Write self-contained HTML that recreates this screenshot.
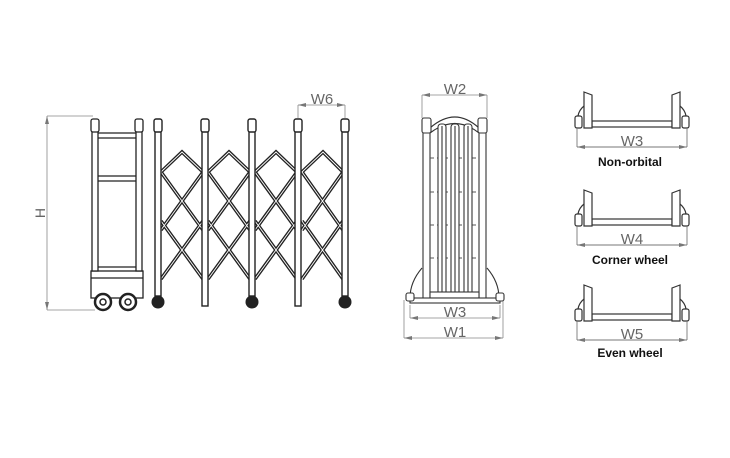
<!DOCTYPE html>
<html><head><meta charset="utf-8"><style>
html,body{margin:0;padding:0;background:#fff;width:730px;height:458px;overflow:hidden}
svg{display:block}
text{font-family:"Liberation Sans",sans-serif}
</style></head><body>
<svg width="730" height="458" viewBox="0 0 730 458" xmlns="http://www.w3.org/2000/svg">
<g stroke="#888" stroke-width="0.8" fill="none">
<line x1="47" y1="116" x2="47" y2="310"/>
<line x1="47" y1="116" x2="93" y2="116"/>
<line x1="47" y1="310" x2="95" y2="310"/>
<line x1="298" y1="105" x2="345" y2="105"/>
<line x1="298" y1="105" x2="298" y2="118"/>
<line x1="345" y1="105" x2="345" y2="118"/>
<line x1="422" y1="95" x2="487" y2="95"/>
<line x1="422" y1="95" x2="422" y2="118"/>
<line x1="487" y1="95" x2="487" y2="118"/>
<line x1="410" y1="318" x2="500" y2="318"/>
<line x1="404" y1="338" x2="503" y2="338"/>
<line x1="410" y1="305" x2="410" y2="318"/>
<line x1="500" y1="305" x2="500" y2="318"/>
<line x1="404" y1="300" x2="404" y2="338"/>
<line x1="503" y1="300" x2="503" y2="338"/>
</g>
<g fill="#777">
<path d="M47,116 l-2,8 l4,0z"/><path d="M47,310 l-2,-8 l4,0z"/>
<path d="M298,105 l8,-2 l0,4z"/><path d="M345,105 l-8,-2 l0,4z"/>
<path d="M422,95 l8,-2 l0,4z"/><path d="M487,95 l-8,-2 l0,4z"/>
<path d="M410,318 l8,-2 l0,4z"/><path d="M500,318 l-8,-2 l0,4z"/>
<path d="M404,338 l8,-2 l0,4z"/><path d="M503,338 l-8,-2 l0,4z"/>
</g>
<g fill="#666" font-size="15">
<text x="45" y="213" transform="rotate(-90 45 213)" text-anchor="middle" font-size="14">H</text>
<text x="322" y="104" text-anchor="middle">W6</text>
<text x="455" y="94" text-anchor="middle">W2</text>
<text x="455" y="317" text-anchor="middle">W3</text>
<text x="455" y="337" text-anchor="middle">W1</text>
</g>
<g stroke="#222" stroke-width="1.3" fill="#fff">
<rect x="91" y="271" width="52" height="27"/>
<line x1="91" y1="278" x2="143" y2="278"/>
<rect x="92" y="130" width="6" height="141"/>
<rect x="136" y="130" width="6" height="141"/>
<rect x="91" y="119" width="8" height="13" rx="2"/>
<rect x="135" y="119" width="8" height="13" rx="2"/>
<line x1="98" y1="133" x2="136" y2="133"/><line x1="98" y1="138" x2="136" y2="138"/>
<line x1="98" y1="176" x2="136" y2="176"/><line x1="98" y1="181" x2="136" y2="181"/>
<line x1="98" y1="267" x2="136" y2="267"/>
<circle cx="103" cy="302" r="8" stroke-width="2.5"/><circle cx="103" cy="302" r="3" stroke-width="1.5"/>
<circle cx="128" cy="302" r="8" stroke-width="2.5"/><circle cx="128" cy="302" r="3" stroke-width="1.5"/>
</g>
<g stroke="#222" stroke-width="3.6" fill="none">
<path d="M161,172 L182,152 L203,172 M161,172 L203,230 M203,172 L161,230 M161,221 L203,279 M203,221 L161,279"/>
<path d="M208,172 L229,152 L250,172 M208,172 L250,230 M250,172 L208,230 M208,221 L250,279 M250,221 L208,279"/>
<path d="M255,172 L276,152 L297,172 M255,172 L297,230 M297,172 L255,230 M255,221 L297,279 M297,221 L255,279"/>
<path d="M302,172 L323,152 L343,172 M302,172 L343,230 M343,172 L302,230 M302,221 L343,279 M343,221 L302,279"/>
</g>
<g stroke="#fff" stroke-width="0.9" fill="none">
<path d="M161,172 L182,152 L203,172 M161,172 L203,230 M203,172 L161,230 M161,221 L203,279 M203,221 L161,279"/>
<path d="M208,172 L229,152 L250,172 M208,172 L250,230 M250,172 L208,230 M208,221 L250,279 M250,221 L208,279"/>
<path d="M255,172 L276,152 L297,172 M255,172 L297,230 M297,172 L255,230 M255,221 L297,279 M297,221 L255,279"/>
<path d="M302,172 L323,152 L343,172 M302,172 L343,230 M343,172 L302,230 M302,221 L343,279 M343,221 L302,279"/>
</g>
<g stroke="#222" stroke-width="1.4" fill="#fff">
<rect x="155" y="130" width="6" height="166"/><rect x="154" y="119" width="8" height="13" rx="2"/>
<rect x="202" y="130" width="6" height="176"/><rect x="201" y="119" width="8" height="13" rx="2"/>
<rect x="249" y="130" width="6" height="166"/><rect x="248" y="119" width="8" height="13" rx="2"/>
<rect x="295" y="130" width="6" height="176"/><rect x="294" y="119" width="8" height="13" rx="2"/>
<rect x="342" y="130" width="6" height="166"/><rect x="341" y="119" width="8" height="13" rx="2"/>
</g>
<g fill="#222"><circle cx="158" cy="302" r="6.5"/><circle cx="252" cy="302" r="6.5"/><circle cx="345" cy="302" r="6.5"/></g>
<g stroke="#333" stroke-width="1.1" fill="#fff">
<path d="M422,268 Q410,282 410,298 M487,268 Q499,282 499,298"/>
<rect x="423" y="130" width="7" height="170"/>
<rect x="479" y="130" width="7" height="170"/>
<path d="M430,128 Q455,106 479,128 M430,133 Q455,114 479,133"/>
<rect x="422" y="118" width="9" height="15" rx="2"/>
<rect x="478" y="118" width="9" height="15" rx="2"/>
<g stroke="#555" stroke-dasharray="4 3"><line x1="430" y1="158" x2="479" y2="158"/><line x1="430" y1="192" x2="479" y2="192"/><line x1="430" y1="225" x2="479" y2="225"/><line x1="430" y1="258" x2="479" y2="258"/></g>
<rect x="438" y="124" width="8" height="172" rx="3"/><line x1="442" y1="126" x2="442" y2="295"/>
<rect x="451" y="124" width="8" height="172" rx="3"/><line x1="455" y1="126" x2="455" y2="295"/>
<rect x="464" y="124" width="8" height="172" rx="3"/><line x1="468" y1="126" x2="468" y2="295"/>
<rect x="430" y="292" width="49" height="6"/>
<rect x="410" y="298" width="90" height="5"/>
<rect x="406" y="293" width="8" height="8" rx="2"/><rect x="496" y="293" width="8" height="8" rx="2"/>
</g>
<g id="p" stroke="#333" stroke-width="1.2" fill="#fff">
<rect x="592" y="121" width="80" height="6"/>
<path d="M584,92 L592,95 L592,128 L584,128 Z"/>
<path d="M680,92 L672,95 L672,128 L680,128 Z"/>
<path d="M584,106 Q579,110 578,116 M680,106 Q685,110 686,116"/>
<rect x="575" y="116" width="7" height="12" rx="2"/>
<rect x="682" y="116" width="7" height="12" rx="2"/>
<line x1="577" y1="128" x2="577" y2="147" stroke="#777" stroke-width="0.9"/>
<line x1="687" y1="128" x2="687" y2="147" stroke="#777" stroke-width="0.9"/>
<line x1="577" y1="147" x2="687" y2="147" stroke="#777" stroke-width="0.9"/>
<path d="M577,147 l8,-2 l0,4z M687,147 l-8,-2 l0,4z" fill="#777" stroke="none"/>
</g>
<use href="#p" y="98"/>
<use href="#p" y="193"/>
<g fill="#666" font-size="15" text-anchor="middle">
<text x="632" y="146">W3</text><text x="632" y="244">W4</text><text x="632" y="339">W5</text>
</g>
<g fill="#111" font-size="12" font-weight="bold" text-anchor="middle">
<text x="630" y="166">Non-orbital</text><text x="630" y="264">Corner wheel</text><text x="630" y="357">Even wheel</text>
</g>
</svg>
</body></html>
